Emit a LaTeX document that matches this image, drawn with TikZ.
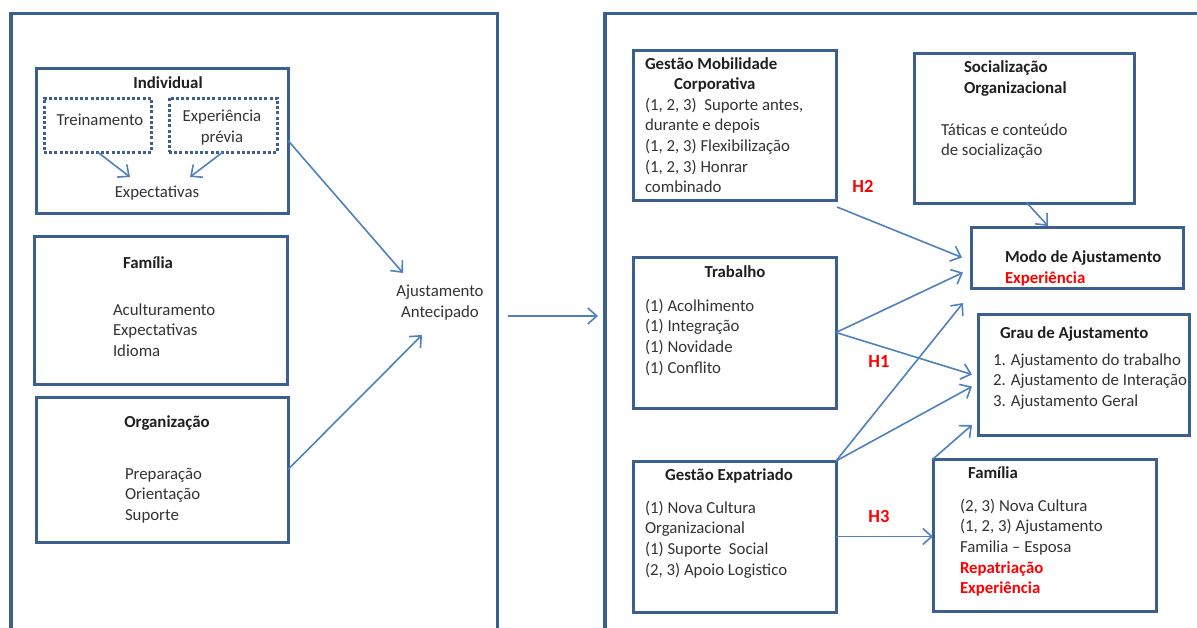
\documentclass[tikz,border=0pt]{standalone}
\usepackage{fontspec}
\setmainfont{Carlito}
\usetikzlibrary{arrows.meta,calc}
\definecolor{boxblue}{HTML}{3B5F8E}
\definecolor{linkblue}{HTML}{4F81BD}
\definecolor{bodytext}{HTML}{333333}
\definecolor{hred}{HTML}{FF0000}

\begin{document}
\begin{tikzpicture}[x=1pt,y=-1pt,
  box/.style={draw=boxblue,line width=3pt,inner sep=0pt,outer sep=0pt,anchor=north west},
  dotbox/.style={draw=boxblue,line width=3pt,dash pattern=on 3pt off 2.2pt,inner sep=0pt,outer sep=0pt,anchor=north west},
  txt/.style={inner sep=0pt,outer sep=0pt,align=left,anchor=base west,text=bodytext,font=\fontsize{16.8}{20.7}\selectfont},
  ttl/.style={inner sep=0pt,outer sep=0pt,align=center,anchor=base,text=black!88,font=\fontsize{16.8}{20.7}\selectfont\bfseries},
  hyp/.style={inner sep=0pt,outer sep=0pt,anchor=base,text=hred,font=\fontsize{18.5}{20}\selectfont\bfseries},
  link/.style={draw=linkblue,line width=1.6pt,-{Straight Barb[length=9pt,width=16pt]}},
]
\useasboundingbox (0,0) rectangle (1197,627);
\fill[white] (0,0) rectangle (1197,627);

% the two panels, open at the bottom
\draw[boxblue,line width=3.5pt] (11,640) -- (11,13.5) -- (497.5,13.5) -- (497.5,640);
\draw[boxblue,line width=3.5pt] (605,640) -- (605,13.5) -- (1210,13.5);

% ---------- left panel ----------
% (multi-line text nodes are placed by the baseline of their last line)
\node[box,minimum width=252pt,minimum height=145pt] (ind) at (36,68) {};
\node[dotbox,minimum width=107pt,minimum height=54pt] (trein) at (44,98) {};
\node[dotbox,minimum width=108pt,minimum height=54pt] (exper) at (169,98) {};
\node[box,minimum width=253pt,minimum height=148pt] (fam) at (34,236) {};
\node[box,minimum width=252pt,minimum height=145pt] (org) at (36,397) {};

\node[ttl] (indT) at (168,88) {Individual};
\node[txt,anchor=base] (treinT) at (100,125) {Treinamento};
\node[txt,align=center,anchor=base] (experT) at (222,142.5) {Experiência\\prévia};
\node[txt,anchor=base] (expect) at (157,197) {Expectativas};
\node[ttl] (famT) at (148,268) {Família};
\node[txt] (famL) at (113,356.4) {Aculturamento\\Expectativas\\Idioma};
\node[ttl] (orgT) at (167,427) {Organização};
\node[txt] (orgL) at (125,520.4) {Preparação\\Orientação\\Suporte};
\node[txt,align=center,anchor=base] (antec) at (440,317) {Ajustamento\\Antecipado};

\draw[link] (trein.south) -- ($(expect.base)+(-27,-20)$);
\draw[link] (exper.south) -- ($(expect.base)+(33,-20)$);
\draw[link] (ind.east) -- ($(antec.base)+(-37,-44)$);
\draw[link] (org.east) -- ($(antec.base)+(-18,18)$);

% link between the panels
\coordinate (flowA) at (508,316);
\coordinate (flowB) at (598,316);
\draw[link] (flowA) -- (flowB);

% ---------- right panel ----------
\node[box,minimum width=203pt,minimum height=150pt] (gmc) at (633,50) {};
\node[box,minimum width=220pt,minimum height=150pt] (soc) at (914,53) {};
\node[box,minimum width=212pt,minimum height=61pt] (modo) at (971,227) {};
\node[box,minimum width=203pt,minimum height=151pt] (trab) at (633,257) {};
\node[box,minimum width=211pt,minimum height=121pt] (grau) at (978,314) {};
\node[box,minimum width=203pt,minimum height=151pt] (gexp) at (633,461) {};
\node[box,minimum width=223pt,minimum height=152pt] (famr) at (933,459) {};

\node[ttl,anchor=base west,align=left] (gmcT) at (645,89.7) {Gestão Mobilidade\\\hspace*{29pt}Corporativa};
\node[txt] (gmcL) at (645,192.8) {(1, 2, 3)\ \ Suporte antes,\\durante e depois\\(1, 2, 3) Flexibilização\\(1, 2, 3) Honrar\\combinado};
\node[hyp] (h2) at (863,192) {H2};

\node[ttl,anchor=base west,align=left] (socT) at (964,93.5) {Socialização\\Organizacional};
\node[txt] (socL) at (941,155.7) {Táticas e conteúdo\\de socialização};

\node[ttl,anchor=base west,align=left] (modoT) at (1005,283.5) {Modo de Ajustamento\\\textcolor{hred}{Experiência}};

\node[ttl] (trabT) at (735,277) {Trabalho};
\node[txt] (trabL) at (645,373.1) {(1) Acolhimento\\(1) Integração\\(1) Novidade\\(1) Conflito};
\node[hyp] (h1) at (879,367) {H1};

\node[ttl,anchor=base west] (grauT) at (1000,338) {Grau de Ajustamento};
\node[txt] (grauL) at (993,406.4) {1. Ajustamento do trabalho\\2. Ajustamento de Interação\\3. Ajustamento Geral};

\node[ttl] (gexpT) at (729,480) {Gestão Expatriado};
\node[txt] (gexpL) at (645,575.1) {(1) Nova Cultura\\Organizacional\\(1) Suporte\ \ Social\\(2, 3) Apoio Logistico};
\node[hyp] (h3) at (879,522) {H3};

\node[ttl,anchor=base west] (famrT) at (968,478) {Família};
\node[txt] (famrL) at (960,593.8) {(2, 3) Nova Cultura\\(1, 2, 3) Ajustamento\\Familia -- Esposa\\\textcolor{hred}{\bfseries Repatriação}\\\textcolor{hred}{\bfseries Experiência}};

\draw[link] ($(gmc.south east)+(1,7)$) -- ($(modo.west)+(-9,0)$);
\draw[link] ($(soc.south)+(3,0)$) -- ($(modo.north west)+(77,-1)$);
\draw[link] (trab.east) -- ($(modo.west)+(-8,15)$);
\draw[link] (trab.east) -- ($(grau.west)+(-6,0)$);
\draw[link] (gexp.north east) -- ($(modo.south west)+(-8,15)$);
\draw[link] (gexp.north east) -- ($(grau.west)+(-6,12)$);
\draw[link] (famr.north west) -- ($(grau.south west)+(-6,-10)$);
\draw[link] (gexp.east) -- (gexp.east -| famr.west);
\end{tikzpicture}
\end{document}
